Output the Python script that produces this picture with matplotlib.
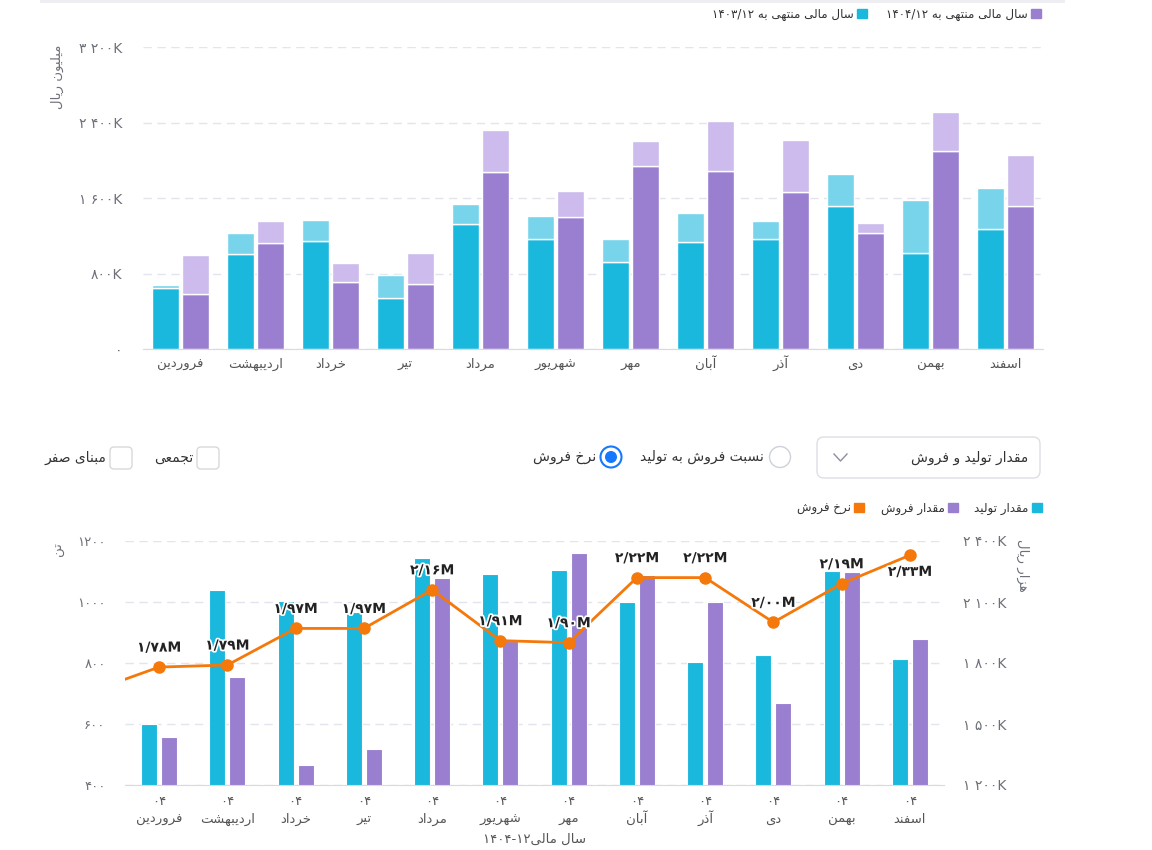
import re
import numpy as np
import matplotlib
matplotlib.use('Agg')
import matplotlib.pyplot as plt
import matplotlib.patches as mpatches
import matplotlib.patheffects as pe

plt.rcParams['font.family'] = ['DejaVu Sans']

# ---- داده‌ها ----
months = ['فروردین', 'اردیبهشت', 'خرداد', 'تیر', 'مرداد', 'شهریور',
          'مهر', 'آبان', 'آذر', 'دی', 'بهمن', 'اسفند']

# نمودار بالا (میلیون ریال، بر حسب K)
prev_low = [645, 1003, 1144, 536, 1321, 1162, 921, 1133, 1162, 1519, 1013, 1268]
prev_high = [29, 230, 223, 247, 215, 244, 248, 312, 191, 336, 566, 442]
cur_low = [578, 1123, 709, 688, 1876, 1398, 1944, 1891, 1664, 1229, 2103, 1519]
cur_high = [414, 230, 206, 333, 445, 273, 258, 526, 551, 110, 406, 537]
top_ticks = [0, 800, 1600, 2400, 3200]

# نمودار پایین
production = [600, 1040, 1004, 967, 1145, 1092, 1105, 1000, 803, 826, 1102, 813]
sales = [557, 754, 466, 518, 1079, 872, 1161, 1089, 1000, 669, 1100, 879]
rate = [1780, 1790, 1970, 1970, 2160, 1910, 1900, 2220, 2220, 2000, 2190, 2330]
rate_before = 1660  # ماه قبل (خارج از محدوده نمودار)
left_ticks = [400, 600, 800, 1000, 1200]
right_ticks = [1200, 1500, 1800, 2100, 2400]
year_label = '04'

# ---- شکل‌دهی حروف فارسی (matplotlib خودش اتصال و راست‌به‌چپ ندارد) ----
FORMS = {
    'ا': (0xFE8D, 2), 'آ': (0xFE81, 2), 'ب': (0xFE8F, 4), 'پ': (0xFB56, 4),
    'ت': (0xFE95, 4), 'ث': (0xFE99, 4), 'ج': (0xFE9D, 4), 'چ': (0xFB7A, 4),
    'ح': (0xFEA1, 4), 'خ': (0xFEA5, 4), 'د': (0xFEA9, 2), 'ذ': (0xFEAB, 2),
    'ر': (0xFEAD, 2), 'ز': (0xFEAF, 2), 'ژ': (0xFB8A, 2), 'س': (0xFEB1, 4),
    'ش': (0xFEB5, 4), 'ص': (0xFEB9, 4), 'ض': (0xFEBD, 4), 'ط': (0xFEC1, 4),
    'ظ': (0xFEC5, 4), 'ع': (0xFEC9, 4), 'غ': (0xFECD, 4), 'ف': (0xFED1, 4),
    'ق': (0xFED5, 4), 'ک': (0xFB8E, 4), 'گ': (0xFB92, 4), 'ل': (0xFEDD, 4),
    'م': (0xFEE1, 4), 'ن': (0xFEE5, 4), 'ه': (0xFEE9, 4), 'و': (0xFEED, 2),
    'ی': (0xFBFC, 4),
}
PDIG = str.maketrans('0123456789', '۰۱۲۳۴۵۶۷۸۹')


def shape(s):
    out = []
    for i, ch in enumerate(s):
        if ch not in FORMS:
            out.append(ch)
            continue
        start, n = FORMS[ch]
        prev = s[i - 1] if i > 0 else ''
        nxt = s[i + 1] if i + 1 < len(s) else ''
        jp = prev in FORMS and FORMS[prev][1] == 4
        jn = n == 4 and nxt in FORMS
        k = 3 if (jp and jn) else 1 if jp else 2 if jn else 0
        out.append(chr(start + k))
    return ''.join(out)


def fa(s):
    s = shape(s.translate(PDIG))
    parts = re.split(r'([0-9۰-۹A-Za-z]+(?:[/\-.][0-9۰-۹A-Za-z]+)*)', s)
    parts = [p if i % 2 else p[::-1] for i, p in enumerate(parts)]
    return ''.join(reversed(parts))


def fmt_k(v):
    if v == 0:
        return '0'.translate(PDIG)
    return (f'{v:,}'.replace(',', ' ') + 'K').translate(PDIG)


# ---- رنگ‌ها ----
C_CY = '#1bb8de'
C_CY_L = '#77d4eb'
C_PU = '#9a7fd1'
C_PU_L = '#ccbbec'
C_OR = '#f5780a'
GRID = '#e2e4ee'
TICK = '#6e7079'
LBL = '#555555'

W, H = 1152, 850
fig = plt.figure(figsize=(W / 100, H / 100), dpi=100)

# لایه رابط کاربری (پیکسلی)
ui = fig.add_axes([0, 0, 1, 1])
ui.set_xlim(0, W)
ui.set_ylim(H, 0)
ui.axis('off')
ui.add_patch(mpatches.Rectangle((40, 0), 1025, 3, color='#eeeef2', lw=0))

# ---- نمودار بالا ----
ax1 = fig.add_axes([143 / W, 1 - 349 / H, 900 / W, 302 / H])
x = np.arange(len(months))
bw, gap = 0.356, 0.045
off = (bw + gap) / 2
ax1.bar(x - off, prev_low, bw, color=C_CY, edgecolor='white', lw=1)
ax1.bar(x - off, prev_high, bw, bottom=prev_low, color=C_CY_L, edgecolor='white', lw=1)
ax1.bar(x + off, cur_low, bw, color=C_PU, edgecolor='white', lw=1)
ax1.bar(x + off, cur_high, bw, bottom=cur_low, color=C_PU_L, edgecolor='white', lw=1)
ax1.set_xlim(-0.5, len(months) - 0.5)
ax1.set_ylim(0, 3200)
ax1.set_yticks(top_ticks)
ax1.set_yticklabels([fmt_k(v) for v in top_ticks])
ax1.set_xticks(x)
ax1.set_xticklabels([])
for i, m in enumerate(months):
    ax1.annotate(fa(m), (i, 0), xycoords=('data', 'axes fraction'), xytext=(0, -13.7),
                 textcoords='offset points', ha='center', va='baseline', fontsize=9.5, color=LBL)
ax1.yaxis.grid(True, ls=(0, (6, 4)), color=GRID, lw=1)
ax1.set_axisbelow(True)
for s in ['top', 'right', 'left']:
    ax1.spines[s].set_visible(False)
ax1.spines['bottom'].set_color('#d8dae3')
ax1.tick_params(axis='y', length=0, pad=15, labelsize=10, labelcolor=TICK)
ax1.tick_params(axis='x', length=0)
fig.text(57 / W, 1 - 77 / H, fa('میلیون ریال'), rotation=90, ha='center',
         va='center', fontsize=9.5, color=TICK)

h_top = [mpatches.Patch(color=C_CY), mpatches.Patch(color=C_PU)]
fig.legend(h_top, [fa('سال مالی منتهی به 1403/12'), fa('سال مالی منتهی به 1404/12')],
           loc='center right', bbox_to_anchor=(1041 / W, 1 - 14 / H), ncol=2,
           frameon=False, markerfirst=False, handlelength=0.8, handleheight=0.8,
           handletextpad=0.3, columnspacing=1.6, fontsize=8.6, labelcolor='#333',
           borderaxespad=0, borderpad=0)

# ---- کنترل‌ها ----
ui.add_patch(mpatches.FancyBboxPatch((817, 437), 223, 41, boxstyle='round,pad=0,rounding_size=7',
                                     fc='white', ec='#dcdfe6', lw=1))
ui.text(1028, 458, fa('مقدار تولید و فروش'), ha='right', va='center', fontsize=10, color='#333')
ui.plot([834, 840.5, 847], [454, 461, 454], color='#8c9099', lw=1)
ui.add_patch(mpatches.Circle((780, 457), 10.5, fc='white', ec='#cdd1d9', lw=1))
ui.text(764, 457, fa('نسبت فروش به تولید'), ha='right', va='center', fontsize=10, color='#333')
ui.add_patch(mpatches.Circle((611, 457), 10.5, fc='white', ec='#1677ff', lw=1.5))
ui.add_patch(mpatches.Circle((611, 457), 6, fc='#1677ff', lw=0))
ui.text(596, 457, fa('نرخ فروش'), ha='right', va='center', fontsize=10, color='#333')
for bx, lbl in [(197, 'تجمعی'), (110, 'مبنای صفر')]:
    ui.add_patch(mpatches.FancyBboxPatch((bx, 447), 22, 22, boxstyle='round,pad=0,rounding_size=4',
                                         fc='white', ec='#d9d9d9', lw=1))
    ui.text(bx - 4, 458, fa(lbl), ha='right', va='center', fontsize=10, color='#333')

# ---- نمودار پایین ----
ax2 = fig.add_axes([125 / W, 1 - 785 / H, 819 / W, 244 / H])
bw2, gap2 = 0.234, 0.059
off2 = (bw2 + gap2) / 2
ax2.bar(x - off2, production, bw2, color=C_CY, edgecolor='white', lw=0.8)
ax2.bar(x + off2, sales, bw2, color=C_PU, edgecolor='white', lw=0.8)
ax2.set_xlim(-0.5, len(months) - 0.5)
ax2.set_ylim(400, 1200)
ax2.set_yticks(left_ticks)
ax2.set_yticklabels([str(v).translate(PDIG) for v in left_ticks])
ax2.set_xticks(x)
ax2.set_xticklabels([year_label.translate(PDIG)] * len(months))
ax2.yaxis.grid(True, ls=(0, (6, 4)), color=GRID, lw=1)
ax2.set_axisbelow(True)
for s in ['top', 'right', 'left']:
    ax2.spines[s].set_visible(False)
ax2.spines['bottom'].set_color('#d8dae3')
ax2.tick_params(axis='y', length=0, pad=14, labelsize=9.5, labelcolor=TICK)
ax2.tick_params(axis='x', length=0, pad=7, labelsize=9.5, labelcolor=LBL)
for i, m in enumerate(months):
    ax2.annotate(fa(m), (i, 0), xycoords=('data', 'axes fraction'), xytext=(0, -27.4),
                 textcoords='offset points', ha='center', va='baseline', fontsize=9.5, color=LBL)
ax2.annotate(fa('سال مالی1404-12'), (0.5, 0), xycoords='axes fraction', xytext=(0, -41.5),
             textcoords='offset points', ha='center', va='baseline', fontsize=9.5, color=LBL)

ax3 = ax2.twinx()
ax3.set_ylim(1200, 2400)
ax3.set_yticks(right_ticks)
ax3.set_yticklabels([fmt_k(v) for v in right_ticks])
for s in ['top', 'right', 'left', 'bottom']:
    ax3.spines[s].set_visible(False)
ax3.tick_params(axis='y', length=0, pad=14, labelsize=10, labelcolor=TICK)
ax3.plot([-1, 0], [rate_before, rate[0]], color=C_OR, lw=2)
ax3.plot(x, rate, color=C_OR, lw=2, marker='o', ms=8)
for i, v in enumerate(rate):
    lbl = (f'{v / 1000:.2f}'.replace('.', '/') + 'M').translate(PDIG)
    dy = -12 if i == len(rate) - 1 else 14
    ax3.annotate(lbl, (i, v), xytext=(0, dy), textcoords='offset points', ha='center',
                 va='center', fontsize=10, fontweight='bold', color='#222',
                 path_effects=[pe.withStroke(linewidth=2.5, foreground='white')])

fig.text(58 / W, 1 - 549 / H, fa('تن'), rotation=90, ha='center', va='center',
         fontsize=9.5, color=TICK)
fig.text(1023 / W, 1 - 565 / H, fa('هزار ریال'), rotation=-90, ha='center', va='center',
         fontsize=9.5, color=TICK)

h_bot = [mpatches.Patch(color=C_OR), mpatches.Patch(color=C_PU), mpatches.Patch(color=C_CY)]
fig.legend(h_bot, [fa('نرخ فروش'), fa('مقدار فروش'), fa('مقدار تولید')],
           loc='center right', bbox_to_anchor=(1042 / W, 1 - 508 / H), ncol=3,
           frameon=False, markerfirst=False, handlelength=0.8, handleheight=0.8,
           handletextpad=0.3, columnspacing=1.4, fontsize=8.6, labelcolor='#333',
           borderaxespad=0, borderpad=0)

fig.savefig('out.png', dpi=100, facecolor='white')
